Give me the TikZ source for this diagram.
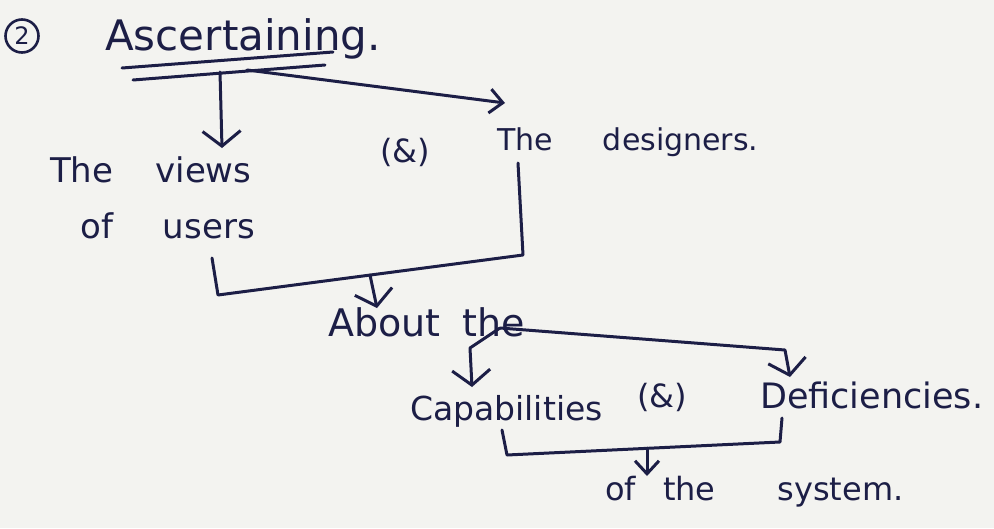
\documentclass[tikz,border=0pt]{standalone}
\usepackage{fontspec}
\setmainfont{DejaVu Sans}
\usetikzlibrary{arrows.meta}
\definecolor{ink}{RGB}{28,30,70}
\definecolor{paper}{RGB}{243,243,240}
\begin{document}
\begin{tikzpicture}[x=1pt,y=-1pt,
  ink/.style={draw=ink,line width=3pt,line cap=round,line join=round},
  arr/.style={ink,-{Straight Barb[length=15pt,width=38pt]}},
  arrsmall/.style={ink,-{Straight Barb[length=13pt,width=24pt]}},
  lbl/.style={text=ink,inner sep=0pt,anchor=base west},
  amp/.style={text=ink,inner sep=0pt,font=\fontsize{32}{38}\selectfont}]
\fill[paper] (0,0) rectangle (994,528);
\useasboundingbox (0,0) rectangle (994,528);
% texts
\node[draw=ink,line width=2.6pt,circle,text=ink,inner sep=0pt,minimum size=33pt,font=\fontsize{24}{28}\selectfont] (num) at (22,36) {2};
\node[lbl,font=\fontsize{42}{48}\selectfont] (title) at (105,50) {Ascertaining.};
\node[lbl,font=\fontsize{34}{40}\selectfont] (views) at (50,182) {The\hspace{42pt}views};
\node[lbl,font=\fontsize{34}{40}\selectfont] (users) at (80,238) {of\hspace{50pt}users};
\node[amp] (and1) at (405,152) {(\&)};
\node[lbl,font=\fontsize{30}{36}\selectfont] (designers) at (497,150) {The\hspace{50pt}designers.};
\node[lbl,font=\fontsize{38}{44}\selectfont] (about) at (328,336) {About\hspace{22pt}the};
\node[lbl,font=\fontsize{33}{40}\selectfont] (cap) at (410,420) {Capabilities};
\node[amp] (and2) at (662,397) {(\&)};
\node[lbl,font=\fontsize{35}{42}\selectfont] (def) at (760,408) {Deficiencies.};
\node[lbl,font=\fontsize{32}{38}\selectfont] (sys) at (605,500) {of\hspace{27pt}the\hspace{62pt}system.};
% points
\coordinate (u1a) at (122,68); \coordinate (u1b) at (333,52);
\coordinate (u2a) at (133,80); \coordinate (u2b) at (325,65);
\coordinate (b0) at (220,72);
\coordinate (b1) at (247,70);
\coordinate (tv) at (222,148);
\coordinate (td) at (505,103);
\coordinate (k1) at (212,258); \coordinate (k2) at (218,295);
\coordinate (k3) at (523,255); \coordinate (k4) at (518,163);
\coordinate (m1) at (370,275); \coordinate (ta) at (377,308);
\coordinate (bp) at (500,328);
\coordinate (r1) at (785,350); \coordinate (tr) at (790,377);
\coordinate (l1) at (470,348); \coordinate (tl) at (472,387);
\coordinate (c1) at (502,430); \coordinate (c2) at (507,455);
\coordinate (c3) at (780,442); \coordinate (c4) at (782,418);
\coordinate (m2) at (647,448); \coordinate (ts) at (647,476);
% underlines
\draw[ink] (u1a) -- (u1b);
\draw[ink] (u2a) -- (u2b);
% connectors
\draw[arr] (b0) -- (tv);
\draw[arrsmall] (b1) -- (td);
\draw[ink] (k1) -- (k2) -- (k3) -- (k4);
\draw[arr] (m1) -- (ta);
\draw[arr] (bp) -- (r1) -- (tr);
\draw[arr] (bp) -- (l1) -- (tl);
\draw[ink] (c1) -- (c2) -- (c3) -- (c4);
\draw[arrsmall] (m2) -- (ts);
\end{tikzpicture}
\end{document}
